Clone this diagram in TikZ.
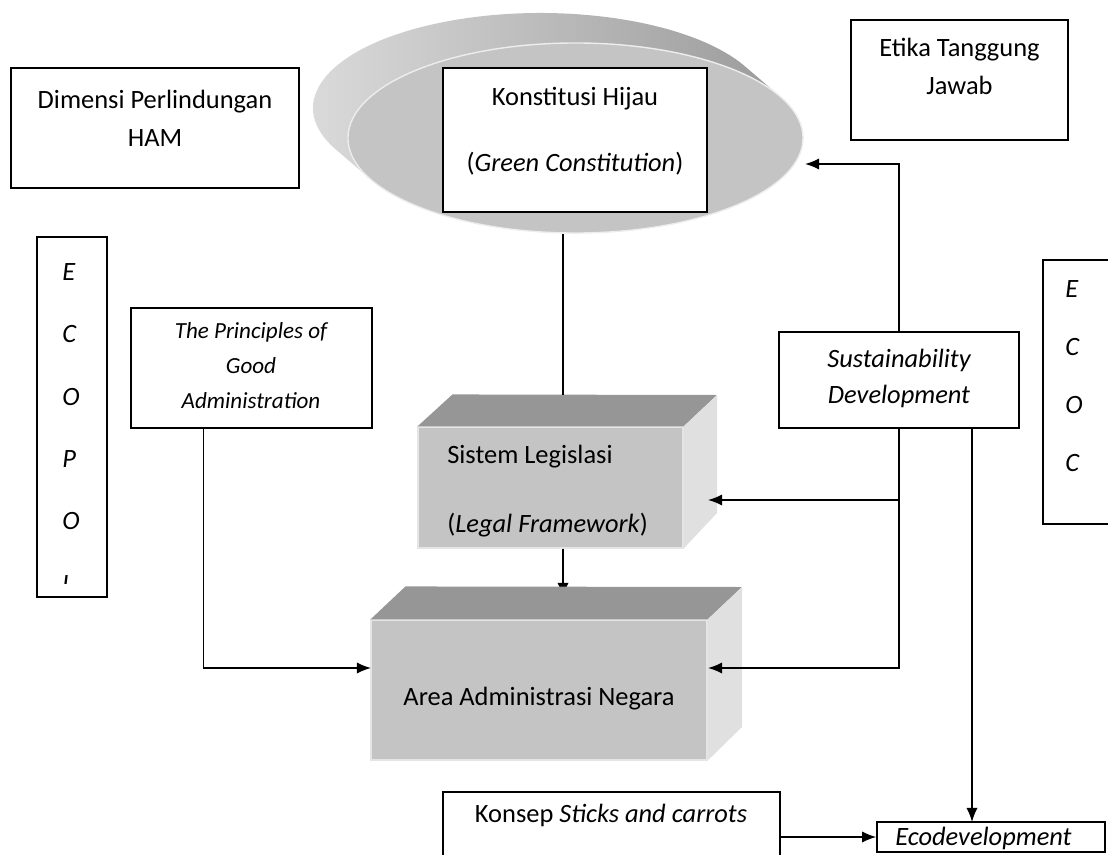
\documentclass[tikz,border=0pt]{standalone}
\usepackage{fontspec}
\setmainfont{Carlito}
\usetikzlibrary{arrows.meta,fit,shapes.geometric}

\tikzset{
  box/.style={draw, line width=1.1pt, inner sep=0pt, fill=white},
  txt/.style={inner sep=0pt, anchor=base, font=\fontsize{18.8}{27}\selectfont},
  arr/.style={-{Latex[length=10pt,width=8pt]}, line width=1.1pt},
  ln/.style={line width=1.1pt},
  front/.style={fill=black!23, draw=black!10, line width=0.8pt, inner sep=0pt},
}

\begin{document}
\begin{tikzpicture}[x=0.025cm, y=-0.025cm, line join=miter]
\useasboundingbox (0,0) rectangle (1108,854);

% the tilted disc: rim, then face
\shade[left color=black!13, right color=black!42]
  ([shift={(540.5,108)}]154:227.5 and 95) arc [start angle=154, end angle=334, x radius=227.5, y radius=95]
  -- ([shift={(575.5,138)}]334:227.5 and 95) arc [start angle=334, end angle=514, x radius=227.5, y radius=95]
  -- cycle;
\node[ellipse, fill=black!23, draw=black!7, line width=1pt, inner sep=0pt,
      minimum width=11.375cm, minimum height=4.75cm] (disc) at (575.5,138) {};

% boxes (text anchored at the last baseline)
\node[box, fit={(11,68) (299,188)}] (dim) {};
\node[txt, align=center] (dimT) at (155,146) {Dimensi Perlindungan\\HAM};
\node[box, fit={(851,20) (1068,140)}] (eti) {};
\node[txt, align=center] (etiT) at (959.5,94) {Etika Tanggung\\Jawab};
\node[box, fit={(443,68) (707,212)}] (kon) {};
\node[txt, align=center, font=\fontsize{18.8}{46.8}\selectfont] (konT) at (575,171) {Konstitusi Hijau\\(\textit{Green Constitution})};
\node[box, fit={(131,308) (372,428)}] (pri) {};
\node[txt, align=center, font=\fontsize{16.4}{24.8}\selectfont\itshape] (priT) at (251,408) {The Principles of\\Good\\Administration};
\node[box, fit={(779,332) (1019,428)}] (sus) {};
\node[txt, align=center, font=\fontsize{18.8}{25.5}\selectfont\itshape] (susT) at (899,403) {Sustainability\\Development};

% side boxes with letters
\node[box, fit={(37,237) (107,597)}] (ecp) {};
\begin{scope}
  \clip (37,237) rectangle (107,583);
  \node[txt, anchor=base west, align=left, font=\fontsize{18.8}{44.3}\selectfont\itshape] (ecpT) at (62,592) {E\\C\\O\\P\\O\\L};
\end{scope}
\node[box, fit={(1043,260) (1140,524)}] (eco) {};
\node[txt, anchor=base west, align=left, font=\fontsize{18.8}{41.1}\selectfont\itshape] (ecoT) at (1065,471) {E\\C\\O\\C};

% legislation block
\node[front, fit={(418,427) (683,548)}] (leg) {};
\fill[black!41] (leg.north west) -- ++(35,-32) -- (717,395) -- (leg.north east) -- cycle;
\fill[black!12] (leg.north east) -- (717,395) -- (717,513) -- (leg.south east) -- cycle;
\node[txt, anchor=base west, align=left, font=\fontsize{18.8}{48.9}\selectfont] (legT) at (447,532) {Sistem Legislasi\\(\textit{Legal Framework})};

\coordinate (legB) at (563,395);
\coordinate (areB) at (563,597);
\draw[ln] (disc.south -| legB) -- (legB);
\draw[arr] (leg.south -| areB) -- (areB);

% administration block
\node[front, fit={(371,620) (707,760)}] (are) {};
\fill[black!41] (are.north west) -- ++(35,-33) -- (742,587) -- (are.north east) -- cycle;
\fill[black!12] (are.north east) -- (742,587) -- (742,727) -- (are.south east) -- cycle;
\node[txt] (areT) at (539,705) {Area Administrasi Negara};

% bottom boxes
\node[box, fit={(443,792) (780,900)}] (stk) {};
\node[txt] (stkT) at (611,822) {Konsep \textit{Sticks and carrots}};
\node[box, fit={(877,822) (1105,852)}] (ecd) {};
\node[txt, anchor=base west, font=\fontsize{18.8}{27}\selectfont\itshape] (ecdT) at (895,845) {Ecodevelopment};

% connectors
\coordinate (konR) at (805,164);
\coordinate (legR) at (708,500);
\coordinate (areR) at (708,668);
\coordinate (areL) at (371,668);
\coordinate (ecdN) at (972,822);
\draw[arr] (sus.north) |- (konR);
\draw[arr] (sus.south |- legR) -- (legR);
\draw[arr] (sus.south) |- (areR);
\draw[arr] ([xshift=-1.2cm]pri.south) |- (areL);
\draw[arr] (sus.south -| ecdN) -- (ecdN);
\draw[arr] (stk.east |- ecd.west) -- (ecd.west);
\end{tikzpicture}
\end{document}
